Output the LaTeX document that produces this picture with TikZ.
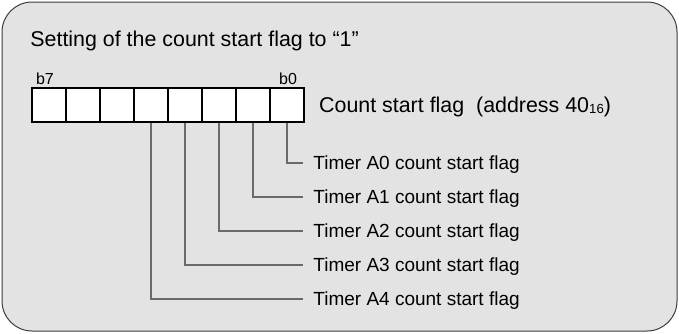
\documentclass[tikz,border=0pt]{standalone}
\usepackage{fontspec}
\setmainfont{Liberation Sans}
\usetikzlibrary{positioning}

\definecolor{panelgrey}{HTML}{E3E3E3}
\definecolor{framegrey}{HTML}{3C3C3C}
\definecolor{leadgrey}{HTML}{6A6A6A}

\tikzset{
  bitcell/.style={draw, line width=0.75pt, fill=white, minimum width=17pt,
    minimum height=17pt, inner sep=0pt},
  bitno/.style={inner sep=0pt, font=\fontsize{8}{9}\selectfont},
  flagtxt/.style={anchor=west, inner xsep=5pt, inner ysep=0pt, text depth=0pt,
    font=\fontsize{9.5}{11}\selectfont},
  leader/.style={draw=leadgrey, line width=0.6pt}
}

\begin{document}
\begin{tikzpicture}[x=0.5pt, y=-0.5pt]
  \useasboundingbox (0,0) rectangle (679,333);
  % Panel
  \draw[fill=panelgrey, draw=framegrey, line width=0.5pt, rounded corners=15pt]
    (2,2) rectangle (677,331);
  \node[anchor=base west, inner sep=0pt, font=\fontsize{10.7}{12}\selectfont]
    (title) at (30,46) {Setting of the count start flag to “1”};
  % Register b7..b0
  \foreach \i in {0,...,7}
    \node[bitcell] (c\i) at ({287-34*\i},105) {};
  \node[bitno] (b7) at (45,79) {b7};
  \node[bitno] (b0) at (288,79) {b0};
  \node[right=7pt of c0, inner sep=0pt, text depth=0pt,
    font=\fontsize{10.7}{12}\selectfont] (cnt)
    {Count start flag\ \ (address 40\raisebox{-0.4pt}{\fontsize{6.6}{7}\selectfont 16})};
  % Flag bits and their leaders
  \foreach \i in {0,...,4} {
    \node[flagtxt] (t\i) at (303,{163+34*\i}) {Timer A\i{} count start flag};
    \draw[leader] (c\i.south) |- (t\i.west);
  }
\end{tikzpicture}
\end{document}
